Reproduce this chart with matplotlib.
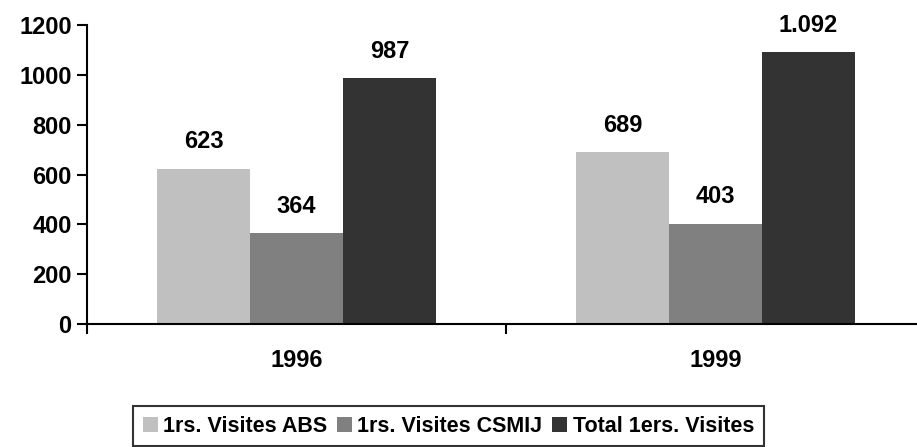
import matplotlib
matplotlib.use("Agg")
import matplotlib.pyplot as plt
import numpy as np

categories = ["1996", "1999"]
series_names = ["1rs. Visites ABS", "1rs. Visites CSMIJ", "Total 1ers. Visites"]
abs_vals = [623, 689]
csmij_vals = [364, 403]
total_vals = [987, 1092]
value_labels = [["623", "689"], ["364", "403"], ["987", "1.092"]]
colors = ["#C0C0C0", "#808080", "#333333"]
yticks = [0, 200, 400, 600, 800, 1000, 1200]

plt.rcParams['font.family'] = ['Liberation Sans', 'DejaVu Sans']
plt.rcParams['font.weight'] = 'bold'

fig = plt.figure(figsize=(9.17, 4.47), dpi=100)
ax = fig.add_axes([87/917, 1-324/447, (925-87)/917, (324-25)/447])

x = np.arange(len(categories))
w = 0.222
series = [abs_vals, csmij_vals, total_vals]
for i, (vals, name, col) in enumerate(zip(series, series_names, colors)):
    pos = x + (i - 1) * w
    ax.bar(pos, vals, width=w, color=col, label=name, linewidth=0)
    for p, v, lab in zip(pos, vals, value_labels[i]):
        ax.annotate(lab, (p, v), xytext=(0, 11), textcoords="offset points",
                    ha="center", va="bottom", fontsize=17, fontweight="bold")

ax.set_xlim(-0.5, 1.5)
ax.set_ylim(0, 1200)
ax.set_yticks(yticks)
ax.set_yticklabels([str(t) for t in yticks], fontsize=17, fontweight="bold")
ax.set_xticks(x)
ax.set_xticklabels(categories, fontsize=17, fontweight="bold")
ax.tick_params(axis='x', which='major', length=0, pad=18)
ax.set_xticks([-0.5, 0.5, 1.5], minor=True)
ax.tick_params(axis='x', which='minor', length=7, width=1.5, direction='out')
ax.tick_params(axis='y', length=7, width=1.5, direction='out', pad=4)

for s in ['top', 'right']:
    ax.spines[s].set_visible(False)
for s in ['left', 'bottom']:
    ax.spines[s].set_linewidth(1.5)

leg = fig.legend(loc='upper left', bbox_to_anchor=(133/917, 1-406/447), ncol=3,
                 prop={'weight': 'bold', 'size': 15.5},
                 frameon=True, fancybox=False, edgecolor='black',
                 handlelength=0.7, handleheight=0.7, handletextpad=0.25,
                 columnspacing=0.45, borderpad=0.45, borderaxespad=0)
leg.get_frame().set_linewidth(1.5)

fig.savefig("out.png", dpi=100)
